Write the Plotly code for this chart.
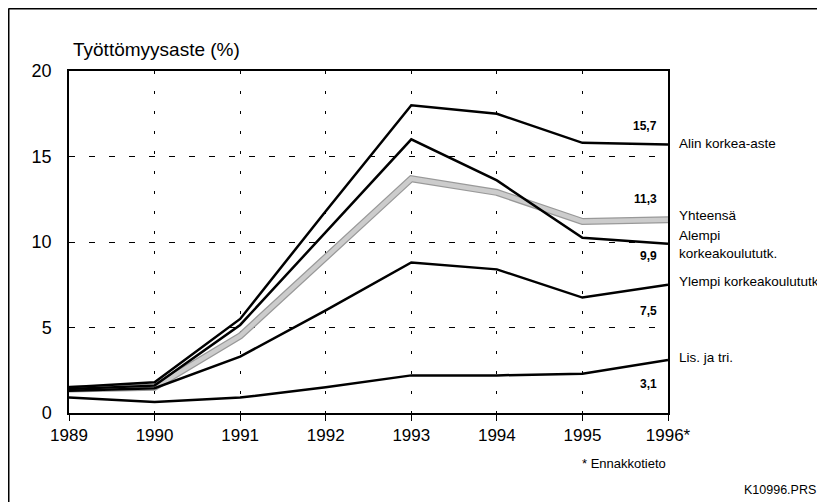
import plotly.graph_objects as go

# Data
years = [1989, 1990, 1991, 1992, 1993, 1994, 1995, 1996]
year_labels = ["1989", "1990", "1991", "1992", "1993", "1994", "1995", "1996*"]

alin = [1.5, 1.8, 5.5, 11.8, 18.0, 17.5, 15.8, 15.7]
alempi = [1.4, 1.6, 5.15, 10.6, 16.0, 13.6, 10.25, 9.9]
yhteensa = [1.4, 1.5, 4.5, 9.1, 13.7, 12.9, 11.2, 11.3]
ylempi = [1.3, 1.45, 3.3, 6.0, 8.8, 8.4, 6.75, 7.5]
lis_tri = [0.9, 0.65, 0.9, 1.5, 2.2, 2.2, 2.3, 3.1]

FONT = "Liberation Sans, Arial, sans-serif"

fig = go.Figure()

# grey "Yhteensä" band: darker wide line with a lighter core
fig.add_trace(go.Scatter(x=years, y=yhteensa, mode="lines",
                         line=dict(color="#999999", width=7), cliponaxis=False))
fig.add_trace(go.Scatter(x=years, y=yhteensa, mode="lines",
                         line=dict(color="#cccccc", width=4.5), cliponaxis=False))

for ys in [alin, alempi, ylempi, lis_tri]:
    fig.add_trace(go.Scatter(x=years, y=ys, mode="lines",
                             line=dict(color="black", width=2.5), cliponaxis=False))

# series labels on the right
series_text = [
    (alin, "Alin korkea-aste", 1),
    (yhteensa, "Yhteensä", 4),
    (alempi, "Alempi<br>korkeakoulututk.", -1),
    (ylempi, "Ylempi korkeakoulututk", 3),
    (lis_tri, "Lis. ja tri.", 2),
]
for ys, txt, dy in series_text:
    fig.add_annotation(x=years[-1], y=ys[-1], text=txt, showarrow=False,
                       xanchor="left", yanchor="middle", align="left",
                       xshift=9, yshift=dy,
                       font=dict(family=FONT, size=13.5, color="black"))

# value labels for the last year
value_shift = [(alin, 19), (yhteensa, 21), (alempi, -12), (ylempi, -26), (lis_tri, -24)]
for ys, dy in value_shift:
    fig.add_annotation(x=years[-1], y=ys[-1], text=f"{ys[-1]:.1f}".replace(".", ","),
                       showarrow=False, xanchor="right", yanchor="middle",
                       xshift=-9, yshift=dy,
                       font=dict(family=FONT, size=12, color="black", weight="bold"))

fig.add_annotation(xref="paper", yref="paper", x=0.004, y=1.025, text="Työttömyysaste (%)",
                   showarrow=False, xanchor="left", yanchor="bottom",
                   font=dict(family=FONT, size=19, color="black"))
fig.add_annotation(xref="paper", yref="paper", x=1.0, y=-0.149, text="* Ennakkotieto",
                   showarrow=False, xanchor="right", yanchor="middle",
                   font=dict(family=FONT, size=13, color="black"))
fig.add_annotation(xref="paper", yref="paper", x=1.25, y=-0.225, text="K10996.PRS",
                   showarrow=False, xanchor="right", yanchor="middle",
                   font=dict(family=FONT, size=12.5, color="black"))

# outer frame (left and top edges)
fig.add_shape(type="line", xref="paper", yref="paper", x0=-0.101, x1=-0.101, y0=-0.3, y1=1.183,
              line=dict(color="black", width=2))
fig.add_shape(type="line", xref="paper", yref="paper", x0=-0.101, x1=1.3, y0=1.183, y1=1.183,
              line=dict(color="black", width=2))

fig.update_xaxes(range=[1989, 1996], tickvals=years, ticktext=year_labels,
                 showline=True, linecolor="black", linewidth=1.5, mirror=True,
                 ticks="outside", ticklen=6, tickcolor="black",
                 showgrid=True, gridcolor="black", gridwidth=1, griddash="3px,17px",
                 tickfont=dict(family=FONT, size=17, color="black"), zeroline=False)
fig.update_yaxes(range=[0, 20], tickvals=[0, 5, 10, 15, 20],
                 showline=True, linecolor="black", linewidth=1.5, mirror=True,
                 ticks="", ticklabelstandoff=12,
                 showgrid=True, gridcolor="black", gridwidth=1, griddash="6px,14px",
                 tickfont=dict(family=FONT, size=18, color="black"), zeroline=False)

fig.update_layout(width=817, height=494, showlegend=False,
                  margin=dict(l=61, r=157, t=63, b=89),
                  plot_bgcolor="white", paper_bgcolor="white")

fig.write_html("out.html")
